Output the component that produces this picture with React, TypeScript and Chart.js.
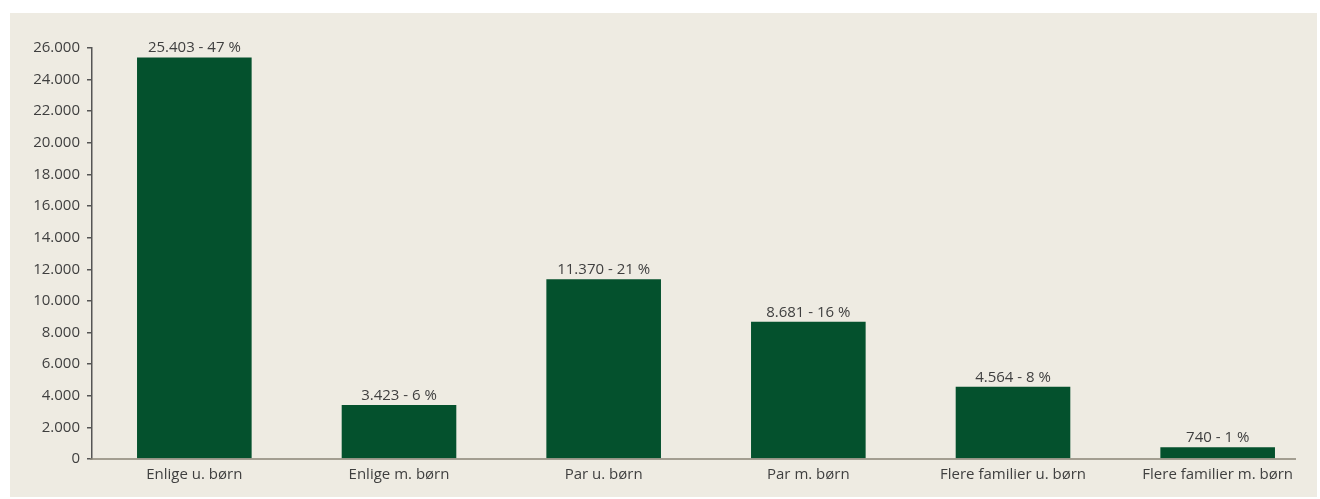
import React, { useEffect, useRef } from "react";
import { Chart, registerables } from "chart.js";

Chart.register(...registerables);

const categories = [
  "Enlige u. børn",
  "Enlige m. børn",
  "Par u. børn",
  "Par m. børn",
  "Flere familier u. børn",
  "Flere familier m. børn",
];
const counts = [25403, 3423, 11370, 8681, 4564, 740];
const percents = [47, 6, 21, 16, 8, 1];
const yMax = 26000;
const yStep = 2000;

const FONT = "'Open Sans', 'Noto Sans', sans-serif";
const TEXT = "#3f3f3f";
const BAR = "#04512d";

const fmt = (n: number) => String(Math.round(n)).replace(/\B(?=(\d{3})+(?!\d))/g, ".");

const labelPlugin = {
  id: "barLabels",
  afterDatasetsDraw(chart: any) {
    const ctx = chart.ctx;
    const meta = chart.getDatasetMeta(0);
    ctx.save();
    ctx.font = `15px ${FONT}`;
    ctx.fillStyle = TEXT;
    ctx.textAlign = "center";
    ctx.textBaseline = "alphabetic";
    meta.data.forEach((bar: any, i: number) => {
      ctx.fillText(`${fmt(counts[i])} - ${percents[i]} %`, bar.x, bar.y - 5);
    });
    ctx.restore();
  },
};

const baselinePlugin = {
  id: "baseline",
  afterDatasetsDraw(chart: any) {
    const ctx = chart.ctx;
    const y = chart.scales.y.getPixelForValue(0);
    const { left, right } = chart.chartArea;
    ctx.save();
    ctx.strokeStyle = "#8a8576";
    ctx.lineWidth = 1.5;
    ctx.beginPath();
    ctx.moveTo(left - 2, y);
    ctx.lineTo(right - 24, y);
    ctx.stroke();
    ctx.restore();
  },
};

export default function App() {
  const ref = useRef<HTMLCanvasElement | null>(null);

  useEffect(() => {
    if (!ref.current) return;
    const chart = new Chart(ref.current, {
      type: "bar",
      data: {
        labels: categories,
        datasets: [
          {
            data: counts,
            backgroundColor: BAR,
            borderWidth: 0,
            categoryPercentage: 1,
            barPercentage: 0.56,
          },
        ],
      },
      options: {
        animation: false,
        responsive: false,
        devicePixelRatio: 1,
        layout: { padding: { left: 0, right: 0, top: 48, bottom: 0 } },
        plugins: {
          legend: { display: false },
          tooltip: { enabled: false },
        },
        scales: {
          x: {
            offset: true,
            grid: { display: false, drawTicks: false },
            border: { display: false },
            ticks: {
              color: TEXT,
              font: { family: FONT, size: 15 },
              padding: 7,
              maxRotation: 0,
              autoSkip: false,
            },
            afterFit: (s: any) => {
              s.height = 40;
            },
          },
          y: {
            min: 0,
            max: yMax,
            grid: {
              drawOnChartArea: false,
              drawTicks: true,
              tickLength: 5,
              color: "#555555",
              lineWidth: 1.5,
            },
            border: { display: true, color: "#555555", width: 1.5 },
            ticks: {
              stepSize: yStep,
              color: TEXT,
              font: { family: FONT, size: 15 },
              padding: 7,
              callback: (v: any) => fmt(Number(v)),
            },
            afterFit: (s: any) => {
              s.width = 92;
            },
          },
        },
      },
      plugins: [labelPlugin, baselinePlugin],
    });
    return () => chart.destroy();
  }, []);

  return (
    <div
      style={{
        position: "absolute",
        left: 0,
        top: 0,
        width: 1320,
        height: 499,
        background: "#ffffff",
        overflow: "hidden",
      }}
    >
      <div
        style={{
          position: "absolute",
          left: 10,
          top: 13,
          width: 1307,
          height: 484,
          background: "#eeebe2",
        }}
      />
      <canvas
        ref={ref}
        width={1320}
        height={499}
        style={{ position: "absolute", left: 0, top: 0, width: 1320, height: 499 }}
      />
    </div>
  );
}
